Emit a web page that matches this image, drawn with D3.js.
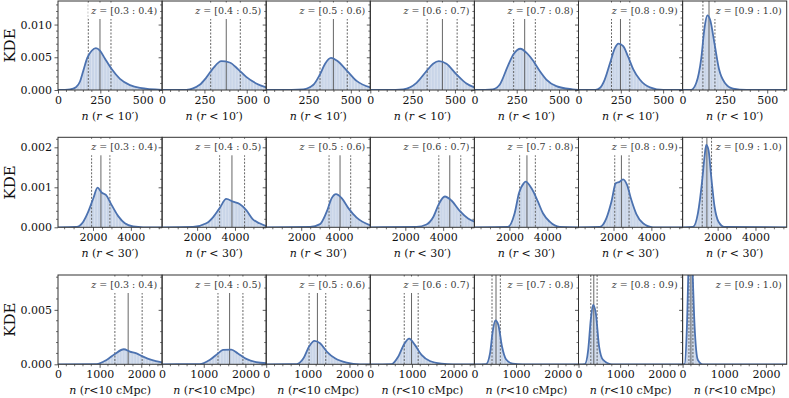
<!DOCTYPE html>
<html>
<head>
<meta charset="utf-8">
<script src="https://cdn.jsdelivr.net/npm/d3@7.9.0/dist/d3.min.js"></script>
<style>
  body { margin: 0; background: #fff; }
  svg { display: block; font-family: "DejaVu Serif", serif; }
</style>
</head>
<body>
<svg id="chart" width="789" height="398"></svg>
<script>
// redshift bins, one column each
const zBins = ["0.3 : 0.4", "0.4 : 0.5", "0.5 : 0.6", "0.6 : 0.7", "0.7 : 0.8", "0.8 : 0.9", "0.9 : 1.0"];

// row settings: x label pieces, axis ranges and ticks
const xLabelRadius = ["10′", "30′", "10 cMpc"];
const xDomains = [[0, 615], [150, 5650], [0, 2500]];
const yDomains = [[0, 0.0136], [0, 0.00225], [0, 0.0082]];
const xTicks = [[0, 250, 500], [2000, 4000], [0, 1000, 2000]];
const yTicks = [[0, 0.005, 0.010], [0, 0.001, 0.002], [0, 0.005]];
const xMinorStep = [50, 500, 200];
const yMinorStep = [0.001, 0.0002, 0.001];
const histBinWidth = [18, 160, 70];

// KDE curves, [n, density]
const kde10arcmin = [
  [[0, 0], [71, 0.0001], [106, 0.00043], [130, 0.0013], [149, 0.0029], [173, 0.0049], [199, 0.006], [224, 0.0064], [248, 0.006], [277, 0.0048], [317, 0.0032], [366, 0.0017], [425, 0.00075], [484, 0.00032], [615, 0.00002]],
  [[0, 0], [143, 0.00003], [222, 0.0008], [261, 0.0019], [301, 0.0033], [350, 0.0044], [399, 0.0042], [448, 0.0032], [497, 0.002], [556, 0.001], [615, 0.0004]],
  [[0, 0], [150, 0.00002], [220, 0.0001], [279, 0.0008], [318, 0.0024], [348, 0.004], [383, 0.0049], [417, 0.0045], [479, 0.0029], [534, 0.0014], [615, 0.0004]],
  [[0, 0], [150, 0.00002], [195, 0.0001], [273, 0.0011], [332, 0.0029], [371, 0.004], [405, 0.0044], [450, 0.004], [509, 0.0024], [568, 0.001], [615, 0.0004]],
  [[0, 0], [109, 0.0001], [149, 0.0008], [198, 0.0037], [232, 0.0055], [272, 0.0063], [307, 0.0057], [346, 0.0045], [386, 0.0029], [425, 0.0016], [484, 0.0006], [580, 0.0001], [615, 0]],
  [[0, 0], [100, 0.00002], [126, 0.0003], [155, 0.0016], [185, 0.004], [215, 0.0064], [236, 0.0071], [264, 0.0067], [293, 0.0051], [323, 0.0032], [362, 0.0016], [422, 0.0004], [501, 0], [615, 0]],
  [[0, 0], [51, 0.00002], [81, 0.0011], [110, 0.0048], [130, 0.0096], [146, 0.0114], [163, 0.0107], [189, 0.007], [215, 0.0032], [249, 0.0011], [298, 0.0002], [377, 0], [615, 0]]
];
const kde30arcmin = [
  [[150, 0], [1134, 0.00001], [1485, 0.00014], [1749, 0.00039], [2012, 0.00072], [2241, 0.00099], [2452, 0.00087], [2680, 0.00081], [2979, 0.00056], [3330, 0.00028], [3682, 0.0001], [4121, 0.00002], [4648, 0], [5650, 0]],
  [[150, 0], [1784, 0.00001], [2487, 0.0001], [2838, 0.00025], [3190, 0.00048], [3541, 0.00071], [3894, 0.00064], [4244, 0.00058], [4595, 0.00043], [4947, 0.0002], [5298, 0.0001], [5650, 0.00003]],
  [[150, 0], [2469, 0.00001], [2996, 0.00008], [3348, 0.00039], [3611, 0.00073], [3840, 0.00083], [4138, 0.00073], [4490, 0.00048], [4929, 0.00024], [5650, 0.00005]],
  [[150, 0], [2592, 0.00001], [3119, 0.00007], [3470, 0.00025], [3769, 0.00058], [4086, 0.00077], [4437, 0.00067], [4876, 0.00041], [5315, 0.00022], [5650, 0.00014]],
  [[150, 0], [1922, 0.00001], [2276, 0.00035], [2503, 0.00085], [2752, 0.0011], [2857, 0.00114], [3159, 0.00098], [3508, 0.00064], [3772, 0.00035], [4127, 0.00014], [4655, 0.00001], [5650, 0]],
  [[150, 0], [1274, 0.00001], [1626, 0.00023], [1889, 0.00064], [2118, 0.0011], [2329, 0.00114], [2504, 0.0012], [2715, 0.00106], [2944, 0.00068], [3207, 0.00033], [3559, 0.0001], [4086, 0], [5650, 0]],
  [[150, 0], [695, 0.00001], [958, 0.00035], [1187, 0.00118], [1310, 0.00177], [1397, 0.00206], [1520, 0.00193], [1661, 0.00127], [1837, 0.00052], [2048, 0.00014], [2364, 0.00001], [5650, 0]]
];
const kde10cmpc = [
  [[0, 0], [926, 0.00002], [1166, 0.0004], [1366, 0.00095], [1581, 0.00138], [1725, 0.00117], [1885, 0.001], [2045, 0.0007], [2244, 0.0004], [2500, 0.00018]],
  [[0, 0], [903, 0.00002], [1142, 0.0004], [1342, 0.001], [1462, 0.00132], [1661, 0.00135], [1821, 0.001], [2021, 0.0005], [2260, 0.0002], [2500, 0.0001]],
  [[0, 0], [735, 0.00002], [895, 0.00055], [1030, 0.00163], [1158, 0.00215], [1294, 0.00193], [1454, 0.00117], [1653, 0.00055], [1933, 0.00015], [2252, 0], [2500, 0]],
  [[0, 0], [511, 0.00002], [671, 0.0007], [815, 0.00187], [934, 0.00236], [1070, 0.00178], [1230, 0.00086], [1430, 0.0003], [1709, 0.00006], [1989, 0], [2500, 0]],
  [[0, 0], [280, 0.00002], [375, 0.001], [439, 0.003], [503, 0.00402], [575, 0.00362], [663, 0.00163], [759, 0.00046], [918, 0.00006], [1158, 0], [2500, 0]],
  [[0, 0], [152, 0.00002], [232, 0.0013], [295, 0.0041], [351, 0.00546], [415, 0.0047], [495, 0.00163], [591, 0.0004], [791, 0], [2500, 0]],
  [[0, 0], [48, 0.00002], [104, 0.0035], [152, 0.0102], [192, 0.0122], [232, 0.0092], [288, 0.0035], [367, 0.0004], [487, 0], [2500, 0]]
];

// 16th, 50th, 84th percentiles
const pct10arcmin = [[179, 248, 313], [287, 379, 462], [318, 397, 479], [336, 426, 513], [232, 297, 360], [195, 248, 303], [120, 156, 191]];
const pct30arcmin = [[1925, 2417, 2891], [3190, 3840, 4507], [3471, 4051, 4613], [3769, 4349, 4929], [2540, 2926, 3370], [2065, 2417, 2821], [1187, 1433, 1679]];
const pct10cmpc = [[1366, 1685, 2021], [1342, 1621, 1941], [1030, 1230, 1430], [815, 990, 1150], [423, 519, 623], [295, 367, 447], [152, 200, 248]];

const kdeRows = [kde10arcmin, kde30arcmin, kde10cmpc];
const pctRows = [pct10arcmin, pct30arcmin, pct10cmpc];

const svg = d3.select('#chart');
const panelLeft = 58, panelW = 104.1;
const rowTops = [1, 137.3, 275];
const rowBottoms = [90, 227.3, 364.3];
const lineColor = '#4c72b0';
const defs = svg.append('defs');

kdeRows.forEach((curves, r) => {
    const y = d3.scaleLinear().domain(yDomains[r]).range([rowBottoms[r], rowTops[r]]);

    svg.append('text')
        .attr('transform', `translate(15,${(rowTops[r] + rowBottoms[r]) / 2}) rotate(-90)`)
        .attr('text-anchor', 'middle')
        .attr('font-size', 15)
        .attr('fill', '#111')
        .text('KDE');

    curves.forEach((pts, c) => {
        const x0 = panelLeft + c * panelW;
        const x = d3.scaleLinear().domain(xDomains[r]).range([x0, x0 + panelW]);
        const g = svg.append('g');
        const clipId = `clip-${r}-${c}`;
        defs.append('clipPath').attr('id', clipId)
            .append('rect')
            .attr('x', x0).attr('y', rowTops[r])
            .attr('width', panelW).attr('height', rowBottoms[r] - rowTops[r]);
        const inner = g.append('g').attr('clip-path', `url(#${clipId})`);

        // histogram-like fill under the KDE
        const area = d3.area().x(d => x(d[0])).y0(y(0)).y1(d => y(d[1])).curve(d3.curveMonotoneX);
        const areaId = `area-${r}-${c}`;
        defs.append('clipPath').attr('id', areaId).append('path').attr('d', area(pts));
        inner.append('path').attr('d', area(pts)).attr('fill', '#c9d5e8');
        const edges = d3.range(xDomains[r][0], xDomains[r][1], histBinWidth[r]);
        inner.append('g').attr('clip-path', `url(#${areaId})`)
            .selectAll('line').data(edges).join('line')
            .attr('x1', d => x(d)).attr('x2', d => x(d))
            .attr('y1', rowTops[r]).attr('y2', rowBottoms[r])
            .attr('stroke', '#fff').attr('stroke-opacity', 0.6).attr('stroke-width', 0.5);

        // percentile lines
        const [p16, p50, p84] = pctRows[r][c];
        inner.selectAll('line.pct').data([[p16, '2,1.5'], [p50, null], [p84, '2,1.5']]).join('line')
            .attr('class', 'pct')
            .attr('x1', d => x(d[0])).attr('x2', d => x(d[0]))
            .attr('y1', rowTops[r]).attr('y2', rowBottoms[r])
            .attr('stroke', '#555').attr('stroke-width', 0.9)
            .attr('stroke-dasharray', d => d[1]);

        // kde line
        const line = d3.line().x(d => x(d[0])).y(d => y(d[1])).curve(d3.curveMonotoneX);
        inner.append('path').attr('d', line(pts))
            .attr('fill', 'none').attr('stroke', lineColor).attr('stroke-width', 1.8);

        // redshift label with white box
        const label = g.append('text')
            .attr('x', x0 + panelW - 5).attr('y', rowTops[r] + 13)
            .attr('text-anchor', 'end').attr('font-size', 9.5).attr('fill', '#3a3a3a');
        label.append('tspan').attr('font-style', 'italic').text('z');
        label.append('tspan').text(` = [${zBins[c]})`);
        const lw = label.node().getComputedTextLength();
        g.insert('rect', 'text')
            .attr('x', x0 + panelW - 5 - lw - 3).attr('y', rowTops[r] + 1.5)
            .attr('width', lw + 6.5).attr('height', 16.5)
            .attr('fill', '#fff');

        // frame
        g.append('rect').attr('x', x0).attr('y', rowTops[r])
            .attr('width', panelW).attr('height', rowBottoms[r] - rowTops[r])
            .attr('fill', 'none').attr('stroke', '#333').attr('stroke-width', 1);

        // x axis
        const xAxis = d3.axisBottom(x).tickValues(xTicks[r]).tickSize(3.5).tickPadding(2.5)
            .tickFormat(d3.format('d'));
        const xg = g.append('g').attr('transform', `translate(0,${rowBottoms[r]})`).call(xAxis);
        const minorX = d3.range(xDomains[r][0] - xDomains[r][0] % xMinorStep[r], xDomains[r][1], xMinorStep[r])
            .filter(v => v >= xDomains[r][0] && !xTicks[r].includes(v));
        xg.selectAll('line.minor').data(minorX).join('line').attr('class', 'minor')
            .attr('x1', d => x(d)).attr('x2', d => x(d)).attr('y1', 0).attr('y2', 2)
            .attr('stroke', '#333').attr('stroke-width', 0.7);

        // y axis
        const yAxis = d3.axisLeft(y).tickValues(yTicks[r]).tickSize(3.5).tickPadding(2.5)
            .tickFormat(c === 0 ? d3.format('.3f') : () => '');
        const yg = g.append('g').attr('transform', `translate(${x0},0)`).call(yAxis);
        const minorY = d3.range(0, yDomains[r][1], yMinorStep[r])
            .filter(v => !yTicks[r].some(t => Math.abs(t - v) < 1e-9));
        yg.selectAll('line.minor').data(minorY).join('line').attr('class', 'minor')
            .attr('x1', 0).attr('x2', -2).attr('y1', d => y(d)).attr('y2', d => y(d))
            .attr('stroke', '#333').attr('stroke-width', 0.7);

        [xg, yg].forEach(a => {
            a.select('.domain').remove();
            a.selectAll('.tick line').attr('stroke', '#333').attr('stroke-width', 0.8);
            a.selectAll('.tick text').attr('font-family', '"DejaVu Serif", serif')
                .attr('font-size', 11).attr('fill', '#111');
        });

        // x label
        const xl = g.append('text')
            .attr('x', x0 + panelW / 2).attr('y', rowBottoms[r] + 30)
            .attr('text-anchor', 'middle').attr('font-size', 11).attr('fill', '#111');
        xl.append('tspan').attr('font-style', 'italic').text('n');
        xl.append('tspan').text(' (');
        xl.append('tspan').attr('font-style', 'italic').text('r');
        xl.append('tspan').text(r === 2 ? `<${xLabelRadius[r]})` : ` < ${xLabelRadius[r]})`);
    });
});
</script>
</body>
</html>
